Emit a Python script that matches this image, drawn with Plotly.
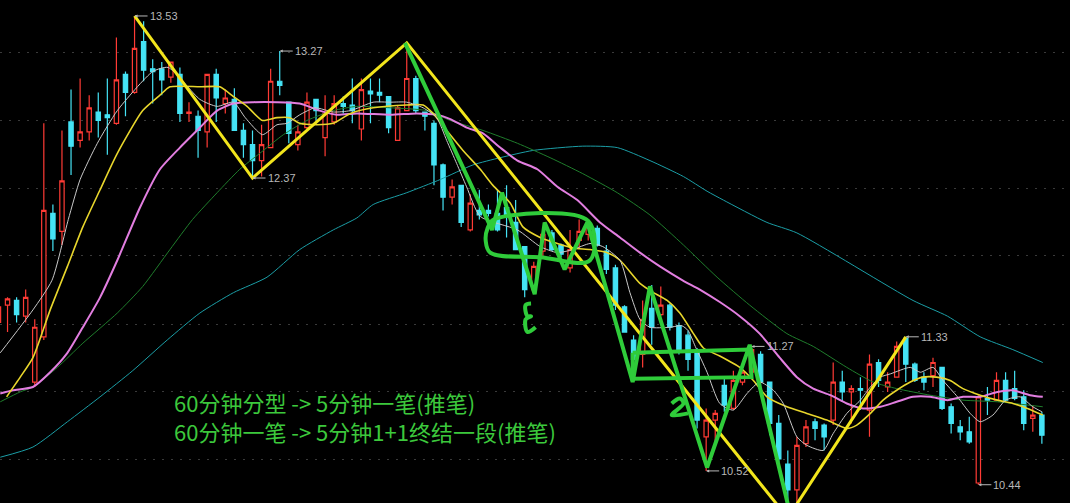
import math
import plotly.graph_objects as go

# 5-minute candles, index -1 is the one cut at the left edge
bar_idx = list(range(-1, 115))
opens = [11.42, 11.53, 11.56, 11.46, 11.05, 11.33, 12.13, 12.01, 12.76, 12.63,
         12.69, 12.83, 12.81, 12.75, 13.10, 12.97, 13.34, 13.14, 13.14, 13.08,
         13.10, 12.82, 12.80, 12.69, 13.10, 12.89, 12.92, 12.70, 12.60, 12.49,
         12.58, 13.05, 12.90, 12.60, 12.72, 12.92, 12.65, 12.76, 12.89, 12.88,
         12.71, 12.98, 12.97, 12.94, 12.63, 12.84, 13.07, 12.83, 12.75, 12.46,
         12.24, 12.32, 12.02, 12.15, 12.15, 12.13, 12.17, 12.07, 11.91, 11.63,
         11.88, 12.00, 11.92, 11.77, 11.95, 11.99, 12.03, 11.88, 11.77, 11.52,
         11.31, 11.22, 11.51, 11.47, 11.53, 11.40, 11.34, 11.24, 10.72, 10.82,
         11.03, 10.89, 11.05, 11.11, 11.22, 11.05, 10.80, 10.56, 10.41, 10.68,
         10.81, 10.79, 10.82, 11.05, 10.99, 11.01, 10.88, 11.17, 11.02, 11.08,
         11.32, 11.16, 11.08, 11.09, 11.14, 10.90, 10.78, 10.75, 10.45, 10.95,
         10.94, 11.06, 11.01, 10.96, 10.83, 10.85]
highs = [11.56, 11.58, 11.58, 11.63, 11.44, 12.75, 12.19, 12.70, 12.99, 13.07,
         12.95, 12.97, 13.07, 13.37, 13.12, 13.53, 13.49, 13.21, 13.19, 13.19,
         13.15, 12.90, 12.84, 13.10, 13.14, 12.99, 13.00, 12.75, 12.70, 12.74,
         13.14, 13.27, 12.90, 12.74, 12.97, 12.92, 12.95, 12.95, 12.94, 13.07,
         13.07, 13.07, 13.07, 12.94, 12.88, 13.33, 13.09, 12.83, 12.77, 12.47,
         12.36, 12.32, 12.26, 12.29, 12.19, 12.29, 12.32, 12.22, 11.91, 11.81,
         12.04, 12.02, 11.93, 12.02, 12.09, 12.07, 12.05, 11.92, 11.79, 11.53,
         11.34, 11.56, 11.66, 11.65, 11.54, 11.42, 11.37, 11.26, 10.89, 10.88,
         11.08, 11.12, 11.14, 11.27, 11.24, 11.05, 10.85, 10.64, 10.72, 10.82,
         10.83, 10.80, 11.17, 11.12, 11.03, 11.08, 11.22, 11.19, 11.11, 11.30,
         11.33, 11.17, 11.11, 11.20, 11.14, 10.92, 10.82, 10.84, 10.97, 11.02,
         11.11, 11.11, 11.12, 11.00, 10.91, 10.87]
lows = [11.37, 11.36, 11.42, 11.42, 11.02, 11.31, 11.88, 11.92, 12.39, 12.58,
        12.63, 12.65, 12.53, 12.74, 12.80, 12.96, 13.05, 12.89, 12.95, 13.04,
        12.76, 12.76, 12.51, 12.58, 12.76, 12.82, 12.70, 12.51, 12.37, 12.38,
        12.58, 12.95, 12.61, 12.56, 12.70, 12.77, 12.52, 12.74, 12.82, 12.75,
        12.63, 12.75, 12.90, 12.68, 12.63, 12.84, 12.82, 12.70, 12.32, 12.15,
        12.19, 12.04, 12.01, 12.09, 12.11, 12.01, 11.97, 11.89, 11.58, 11.61,
        11.84, 11.88, 11.84, 11.74, 11.90, 11.95, 11.91, 11.73, 11.50, 11.36,
        11.16, 11.14, 11.28, 11.46, 11.37, 11.22, 11.12, 10.77, 10.52, 10.66,
        10.87, 10.88, 11.03, 11.11, 11.00, 10.73, 10.57, 10.30, 10.25, 10.66,
        10.70, 10.64, 10.79, 10.93, 10.80, 10.88, 10.72, 11.02, 10.99, 11.08,
        11.05, 11.05, 11.00, 11.02, 10.88, 10.74, 10.70, 10.68, 10.44, 10.85,
        10.94, 10.93, 10.94, 10.76, 10.75, 10.68]
closes = [11.52, 11.57, 11.47, 11.58, 11.39, 12.15, 11.96, 12.35, 12.59, 12.69,
          12.86, 12.77, 12.79, 13.06, 12.97, 13.29, 13.13, 13.12, 13.06, 13.19,
          12.82, 12.83, 12.70, 13.10, 12.93, 12.93, 12.70, 12.60, 12.49, 12.60,
          13.05, 13.02, 12.68, 12.69, 12.90, 12.84, 12.82, 12.89, 12.87, 12.84,
          12.99, 12.96, 12.95, 12.72, 12.86, 13.07, 12.84, 12.80, 12.46, 12.24,
          12.31, 12.07, 12.20, 12.12, 12.13, 12.02, 12.12, 11.89, 11.63, 11.78,
          11.99, 11.89, 11.86, 11.89, 12.01, 12.05, 11.92, 11.76, 11.53, 11.36,
          11.19, 11.44, 11.39, 11.53, 11.39, 11.25, 11.19, 10.82, 10.82, 10.86,
          10.91, 11.06, 11.11, 11.25, 11.05, 10.80, 10.59, 10.41, 10.67, 10.78,
          10.77, 10.72, 11.05, 10.99, 11.01, 11.00, 11.16, 11.06, 11.05, 11.27,
          11.16, 11.06, 11.05, 11.17, 10.89, 10.80, 10.75, 10.69, 10.96, 10.94,
          11.06, 10.94, 10.95, 10.80, 10.85, 10.73]

# moving averages (bar index, price)
ma5_x = [-0.8, 2.8, 4.9, 6.7, 8.0, 9.9, 12.1, 16.0, 17.7, 21.2, 23.1, 24.9, 26.2, 28.1,
         29.7, 30.8, 32.2, 33.9, 35.9, 37.8, 40.3, 42.2, 44.0, 45.8, 47.3, 48.4, 49.5,
         50.6, 52.1, 56.2, 58.7, 60.6, 62.3, 64.2, 65.6, 67.5, 68.6, 69.7, 70.8, 73.0,
         74.3, 75.0, 75.8, 77.1, 78.5, 80.0, 81.5, 82.9, 84.4, 85.5, 87.0, 88.1, 89.9,
         91.0, 92.5, 94.0, 95.1, 96.2, 97.3, 99.5, 100.6, 102.0, 103.1, 104.7, 106.1,
         107.2, 108.6, 110.0, 111.6, 113.0, 114.0]
ma5_y = [11.23, 11.50, 11.69, 12.09, 12.36, 12.61, 12.84, 13.12, 13.15, 12.92, 12.87,
         12.90, 12.79, 12.67, 12.74, 12.75, 12.81, 12.86, 12.83, 12.84, 12.90, 12.90,
         12.90, 12.86, 12.79, 12.63, 12.47, 12.31, 12.11, 12.02, 11.91, 11.87, 11.89,
         11.93, 11.91, 11.82, 11.61, 11.44, 11.39, 11.39, 11.40, 11.37, 11.27, 11.11,
         10.92, 10.88, 10.98, 11.05, 11.00, 10.92, 10.72, 10.67, 10.64, 10.74, 10.86,
         10.94, 11.02, 11.08, 11.10, 11.14, 11.11, 11.14, 11.06, 10.96, 10.86, 10.81,
         10.85, 10.94, 10.96, 10.90, 10.87]
ma10_x = [-0.1, 1.4, 2.8, 4.7, 6.6, 8.3, 10.2, 12.1, 14.9, 16.8, 17.9, 21.2, 23.4, 24.9,
          26.4, 28.1, 29.7, 31.1, 32.2, 34.1, 35.9, 37.8, 40.3, 44.0, 45.8, 46.9, 48.4,
          50.2, 52.1, 53.5, 55.4, 56.8, 58.7, 60.6, 62.3, 64.2, 66.1, 67.5, 69.7, 71.2,
          72.7, 74.1, 75.6, 76.7, 78.5, 80.7, 82.2, 83.7, 85.9, 88.1, 90.3, 92.5, 93.6,
          95.1, 96.5, 98.0, 99.5, 100.9, 102.4, 103.9, 105.3, 107.2, 109.1, 110.8, 112.4,
          114.1]
ma10_y = [10.96, 11.08, 11.20, 11.50, 11.78, 12.04, 12.29, 12.54, 12.84, 12.95, 13.01,
          13.01, 13.01, 12.94, 12.87, 12.77, 12.79, 12.79, 12.75, 12.74, 12.75, 12.82,
          12.86, 12.88, 12.88, 12.82, 12.70, 12.56, 12.43, 12.32, 12.20, 12.04, 11.97,
          11.93, 11.90, 11.89, 11.87, 11.82, 11.67, 11.61, 11.56, 11.48, 11.35, 11.26,
          11.21, 11.14, 11.06, 10.96, 10.90, 10.86, 10.82, 10.77, 10.79, 10.86, 10.94,
          11.00, 11.05, 11.08, 11.08, 11.06, 11.01, 10.97, 10.94, 10.92, 10.89, 10.85]
ma20_x = [-0.8, 0.6, 2.8, 4.7, 6.6, 8.3, 10.2, 12.1, 14.6, 16.8, 19.0, 21.2, 23.1, 24.9,
          27.1, 29.7, 32.2, 34.4, 36.3, 38.5, 42.2, 45.1, 47.3, 48.8, 50.6, 52.4, 54.3,
          56.2, 58.4, 60.6, 62.8, 65.3, 67.5, 69.7, 71.9, 74.4, 76.3, 78.5, 80.7, 82.9,
          85.1, 87.0, 88.8, 90.7, 92.5, 94.3, 96.2, 98.0, 99.8, 101.7, 103.6, 105.3,
          107.2, 109.1, 110.8, 112.7, 114.1]
ma20_y = [10.98, 11.00, 11.02, 11.11, 11.23, 11.39, 11.58, 11.82, 12.17, 12.43, 12.58,
          12.72, 12.84, 12.89, 12.90, 12.90, 12.89, 12.84, 12.81, 12.82, 12.81, 12.82,
          12.81, 12.78, 12.72, 12.68, 12.58, 12.49, 12.43, 12.31, 12.22, 12.07, 11.97,
          11.87, 11.78, 11.69, 11.63, 11.55, 11.46, 11.35, 11.20, 11.08, 11.01, 10.97,
          10.92, 10.89, 10.90, 10.93, 10.96, 10.96, 10.94, 10.96, 10.96, 10.99, 11.00,
          10.97, 10.96]
ma30_x = [-0.8, 1.4, 2.8, 5.5, 8.3, 12.1, 14.9, 17.9, 20.4, 23.1, 25.6, 27.8, 30.4,
          33.0, 35.9, 38.5, 42.2, 46.2, 48.8, 52.4, 56.2, 59.8, 63.4, 67.2, 70.8, 74.5,
          78.2, 81.8, 85.9, 88.8, 92.5, 95.4, 98.0, 101.7, 105.3, 109.1, 114.1]
ma30_y = [10.93, 10.99, 11.02, 11.14, 11.29, 11.48, 11.65, 11.89, 12.09, 12.27, 12.43,
          12.54, 12.67, 12.77, 12.84, 12.87, 12.86, 12.84, 12.77, 12.70, 12.61, 12.51,
          12.40, 12.27, 12.12, 11.92, 11.71, 11.53, 11.35, 11.27, 11.14, 11.05, 11.01,
          10.97, 10.94, 10.93, 10.90]
ma60_x = [-0.8, 2.8, 6.6, 10.2, 13.8, 17.6, 21.2, 24.9, 28.6, 32.2, 35.9, 38.5, 40.3,
          44.0, 47.7, 51.3, 54.3, 57.9, 63.4, 67.2, 70.8, 74.5, 77.1, 78.9, 83.7, 87.0,
          99.8, 103.6, 107.2, 110.8, 114.1]
ma60_y = [10.60, 10.66, 10.81, 10.96, 11.12, 11.31, 11.48, 11.61, 11.71, 11.89, 12.02,
          12.10, 12.19, 12.27, 12.36, 12.46, 12.51, 12.56, 12.59, 12.58, 12.49, 12.38,
          12.28, 12.22, 12.07, 12.00, 11.56, 11.46, 11.33, 11.25, 11.17]

# yellow strokes (bi) between turning points
bi_x = [14, 27, 44, 86, 99]
bi_y = [13.53, 12.37, 13.33, 10.25, 11.33]

# green hand-drawn strokes
pen_x = [43.8, 53.4, 54.5, 58.1, 59.2, 61.4, 63.9, 68.9, 70.8, 77.1, 81.8, 86.5]
pen_y = [13.33, 12.02, 12.27, 11.60, 12.07, 11.76, 12.07, 11.05, 11.65, 10.54, 11.28, 10.22]
box1_x = [53.6, 64.0, 64.2, 58.7, 53.2, 52.7, 52.9, 53.6]
box1_y = [12.09, 12.08, 11.82, 11.84, 11.87, 11.95, 12.03, 12.09]
box2_x = [68.9, 81.8, 82.0, 68.9, 68.9]
box2_y = [11.23, 11.25, 11.08, 11.07, 11.23]
mark1_x = [57.7, 57.1, 57.3, 57.7, 57.1, 57.3, 58.2]
mark1_y = [11.54, 11.53, 11.46, 11.46, 11.44, 11.36, 11.39]
mark2_x = [73.2, 74.1, 74.5, 73.2, 75.0]
mark2_y = [10.92, 10.95, 10.92, 10.85, 10.86]

# marked extremes
mark_idx = [14, 27, 30, 77, 82, 99, 107]
mark_val = [13.53, 12.37, 13.27, 10.52, 11.27, 11.33, 10.44]

grid_vals = [13.26, 12.77, 12.30, 11.85, 11.41, 10.99, 10.585]

notes = ["60分钟分型 -> 5分钟一笔(推笔)", "60分钟一笔 -> 5分钟1+1终结一段(推笔)"]

RED = "#ff3b35"
CYAN = "#45e3f5"
PEN = "#2fcc3a"

fig = go.Figure()
fig.add_trace(go.Candlestick(
    x=bar_idx, open=opens, high=highs, low=lows, close=closes,
    increasing=dict(line=dict(color=RED, width=1.2), fillcolor="#000000"),
    decreasing=dict(line=dict(color=CYAN, width=1.2), fillcolor=CYAN),
    whiskerwidth=0, showlegend=False, hoverinfo="skip"))

for xs, ys, col, w in [(ma60_x, ma60_y, "#1b9ea6", 1),
                       (ma30_x, ma30_y, "#1f7d2c", 1),
                       (ma20_x, ma20_y, "#e27ee0", 2),
                       (ma10_x, ma10_y, "#e8d62c", 1.6),
                       (ma5_x, ma5_y, "#c9c9c9", 1)]:
    fig.add_trace(go.Scatter(x=xs, y=ys, mode="lines", showlegend=False,
                             line=dict(color=col, width=w, shape="spline", smoothing=0.6),
                             hoverinfo="skip"))

fig.add_trace(go.Scatter(x=bi_x, y=bi_y, mode="lines", showlegend=False,
                         line=dict(color="#f2e51c", width=3), hoverinfo="skip"))

for xs, ys, sh in [(pen_x, pen_y, "linear"), (box1_x, box1_y, "spline"),
                   (box2_x, box2_y, "linear"), (mark1_x, mark1_y, "spline"),
                   (mark2_x, mark2_y, "spline")]:
    fig.add_trace(go.Scatter(x=xs, y=ys, mode="lines", showlegend=False,
                             line=dict(color=PEN, width=4, shape=sh),
                             hoverinfo="skip"))

for i, v in zip(mark_idx, mark_val):
    fig.add_annotation(x=i, y=math.log10(v), text=f"{v:.2f}", showarrow=True,
                       ax=13, ay=0, xanchor="left", arrowhead=2, arrowsize=0.6,
                       arrowwidth=1, arrowcolor="#b8b8b8",
                       font=dict(family="Liberation Sans", size=11, color="#b8b8b8"))

fig.add_annotation(x=172 / 1070, y=1 - 416 / 503, xref="paper", yref="paper",
                   text="<br>".join(notes), showarrow=False, xanchor="left",
                   yanchor="middle", align="left",
                   font=dict(family="Noto Sans CJK SC", size=22, color="#3cc83c"))

fig.update_layout(
    width=1070, height=503, margin=dict(l=0, r=0, t=0, b=0),
    paper_bgcolor="#000000", plot_bgcolor="#000000",
    hovermode=False, showlegend=False, boxgap=0.32,
    xaxis=dict(range=[-0.83, 117.1], showgrid=False, zeroline=False,
               showticklabels=False, rangeslider=dict(visible=False)),
    yaxis=dict(type="log", range=[math.log10(10.335), math.log10(13.65)],
               tickvals=grid_vals, showticklabels=False, zeroline=False,
               gridcolor="#3a3a3a", griddash="2px,7px", gridwidth=1),
)

fig.write_html("out.html", config={"displayModeBar": False},
               post_script="document.body.style.margin='0';"
               "document.body.style.overflow='hidden';"
               "document.body.style.background='#000';")
